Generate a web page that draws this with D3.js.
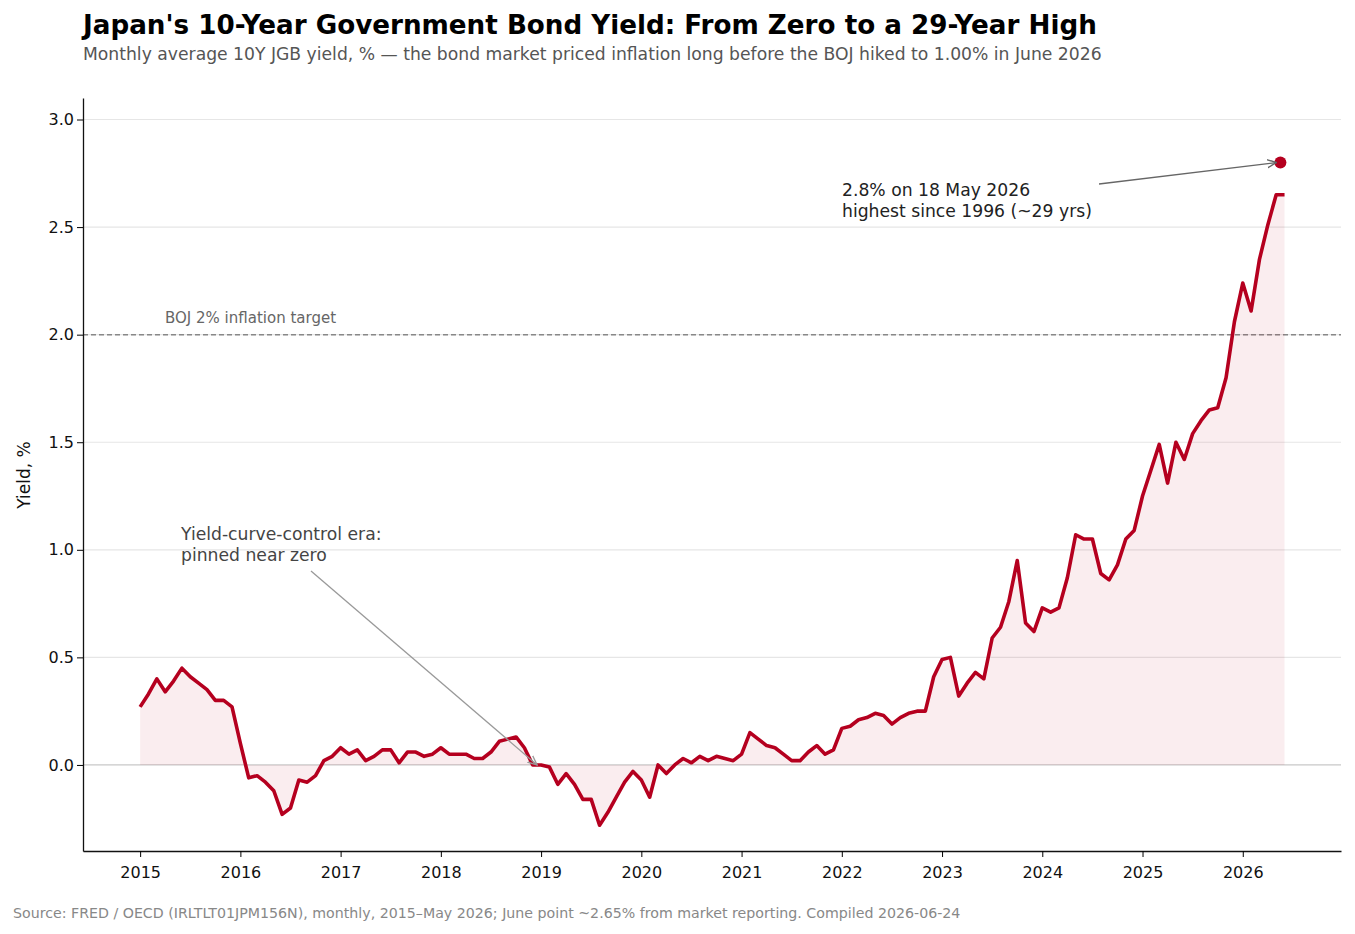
<!DOCTYPE html>
<html><head><meta charset="utf-8">
<script src="https://cdn.jsdelivr.net/npm/d3@7"></script>
<style>body{margin:0;background:#fff;font-family:"DejaVu Sans",sans-serif}</style>
</head><body><svg id="c" width="1355" height="934"></svg>
<script>
const startYear = 2015;
const yields = [
0.27,0.33,0.40,0.34,0.39,0.45,0.41,0.38,0.35,0.30,0.30,0.27,
0.10,-0.06,-0.05,-0.08,-0.12,-0.23,-0.20,-0.07,-0.08,-0.05,0.02,0.04,
0.08,0.05,0.07,0.02,0.04,0.07,0.07,0.01,0.06,0.06,0.04,0.05,
0.08,0.05,0.05,0.05,0.03,0.03,0.06,0.11,0.12,0.13,0.08,0.00,
0.00,-0.01,-0.09,-0.04,-0.09,-0.16,-0.16,-0.28,-0.22,-0.15,-0.08,-0.03,
-0.07,-0.15,0.00,-0.04,0.00,0.03,0.01,0.04,0.02,0.04,0.03,0.02,
0.05,0.15,0.12,0.09,0.08,0.05,0.02,0.02,0.06,0.09,0.05,0.07,
0.17,0.18,0.21,0.22,0.24,0.23,0.19,0.22,0.24,0.25,0.25,0.41,
0.49,0.50,0.32,0.38,0.43,0.40,0.59,0.64,0.76,0.95,0.66,0.62,
0.73,0.71,0.73,0.87,1.07,1.05,1.05,0.89,0.86,0.93,1.05,1.09,
1.25,1.37,1.49,1.31,1.50,1.42,1.54,1.60,1.65,1.66,1.80,2.06,
2.24,2.11,2.35,2.51,2.65,2.65];
const xTicks = [2015,2016,2017,2018,2019,2020,2021,2022,2023,2024,2025,2026];
const yTicks = [0,0.5,1.0,1.5,2.0,2.5,3.0];
const peakDate = 2026 + 137/365, peakValue = 2.8;
const targetValue = 2.0;

const svg = d3.select("#c");
const x = d3.scaleLinear().domain([2014.43, 2026.98]).range([83, 1341]);
const y = d3.scaleLinear().domain([-0.4, 3.1]).range([851, 98]);
const data = yields.map((v,i)=>({t:startYear+i/12, v}));

svg.append("g").selectAll("line").data(yTicks).join("line")
  .attr("x1",83).attr("x2",1341).attr("y1",d=>y(d)).attr("y2",d=>y(d))
  .attr("stroke",d=>d===0?"#c8c8c8":"#e6e6e6").attr("stroke-width",1.2);

svg.append("line").attr("x1",83).attr("x2",1341).attr("y1",y(targetValue)).attr("y2",y(targetValue))
  .attr("stroke","#888").attr("stroke-dasharray","5,3").attr("stroke-width",1.5);
svg.append("text").attr("x",165).attr("y",y(targetValue)-12).attr("font-size",15).attr("fill","#666").text("BOJ 2% inflation target");

svg.append("path").datum(data).attr("fill","#b5001f").attr("fill-opacity",0.07)
  .attr("d",d3.area().x(d=>x(d.t)).y0(y(0)).y1(d=>y(d.v)));
svg.append("path").datum(data).attr("fill","none").attr("stroke","#b5001f").attr("stroke-width",3.6)
  .attr("stroke-linejoin","round").attr("d",d3.line().x(d=>x(d.t)).y(d=>y(d.v)));
svg.append("circle").attr("cx",x(peakDate)).attr("cy",y(peakValue)).attr("r",6).attr("fill","#b5001f");

const xa = svg.append("g").attr("transform","translate(0,851)")
  .call(d3.axisBottom(x).tickValues(xTicks).tickFormat(d3.format("d")).tickSizeOuter(0));
const ya = svg.append("g").attr("transform","translate(83,0)")
  .call(d3.axisLeft(y).tickValues(yTicks).tickFormat(d3.format(".1f")).tickSizeOuter(0));
[xa,ya].forEach(a=>{a.selectAll("text").attr("font-size",16).attr("fill","#111").attr("font-family","DejaVu Sans");
  a.select(".domain").attr("stroke","#111").attr("stroke-width",1.3)});
xa.selectAll("text").attr("dy","1.1em");

svg.append("defs").html('<marker id="ah" viewBox="0 0 10 10" refX="9" refY="5" markerWidth="8" markerHeight="8" orient="auto"><path d="M0,1 L9,5 L0,9" fill="none" stroke="#666" stroke-width="1.3"/></marker><marker id="ah2" viewBox="0 0 10 10" refX="9" refY="5" markerWidth="8" markerHeight="8" orient="auto"><path d="M0,1 L9,5 L0,9" fill="none" stroke="#999" stroke-width="1.3"/></marker>');
svg.append("line").attr("x1",1099).attr("y1",184).attr("x2",x(peakDate)-4).attr("y2",y(peakValue)).attr("stroke","#666").attr("stroke-width",1.3).attr("marker-end","url(#ah)");
svg.append("text").attr("x",842).attr("y",196).attr("font-size",17.2).attr("fill","#222")
  .selectAll("tspan").data(["2.8% on 18 May 2026","highest since 1996 (~29 yrs)"]).join("tspan")
  .attr("x",842).attr("dy",(d,i)=>i?21:0).text(d=>d);
svg.append("line").attr("x1",311).attr("y1",571).attr("x2",x(2019)-4).attr("y2",y(0)).attr("stroke","#999").attr("stroke-width",1.3).attr("marker-end","url(#ah2)");
svg.append("text").attr("x",181).attr("y",540).attr("font-size",17.2).attr("fill","#444")
  .selectAll("tspan").data(["Yield-curve-control era:","pinned near zero"]).join("tspan")
  .attr("x",181).attr("dy",(d,i)=>i?21:0).text(d=>d);

svg.append("text").attr("transform","translate(30,475) rotate(-90)").attr("text-anchor","middle").attr("font-size",17).attr("fill","#111").text("Yield, %");
svg.append("text").attr("x",83).attr("y",34).attr("font-size",26.2).attr("font-weight","bold").attr("fill","#000").text("Japan's 10-Year Government Bond Yield: From Zero to a 29-Year High");
svg.append("text").attr("x",83).attr("y",60).attr("font-size",17.2).attr("fill","#555").text("Monthly average 10Y JGB yield, % — the bond market priced inflation long before the BOJ hiked to 1.00% in June 2026");
svg.append("text").attr("x",13).attr("y",918).attr("font-size",14.2).attr("fill","#888").text("Source: FRED / OECD (IRLTLT01JPM156N), monthly, 2015–May 2026; June point ~2.65% from market reporting.  Compiled 2026-06-24");
</script></body></html>
